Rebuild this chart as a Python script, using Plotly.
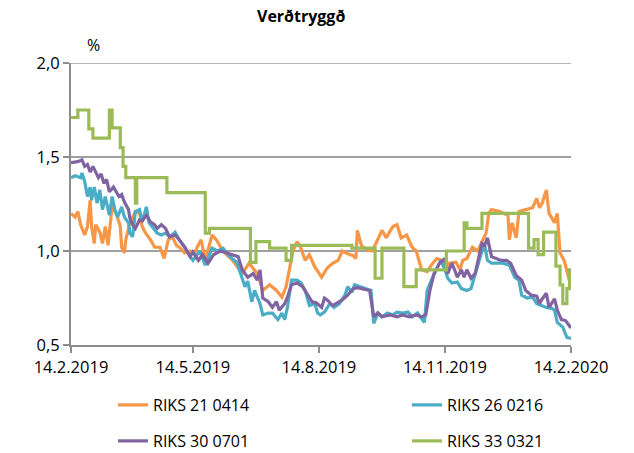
import pandas as pd
import plotly.graph_objects as go

START = "2019-02-14"

# Day offsets from 14.2.2019 and yields (%)
riks21_days = [0, 3, 5, 7, 10, 12, 14, 15, 17, 18, 21, 23, 25, 27, 28, 30, 33, 36, 37, 39, 40, 43, 47, 50, 52, 54, 58, 61, 65, 68, 71, 74, 77, 79, 83, 87, 90, 95, 98, 103, 106, 111, 118, 125, 130, 136, 140, 145, 150, 154, 157, 160, 162, 165, 167, 171, 174, 178, 183, 187, 191, 195, 198, 202, 206, 208, 209, 212, 216, 220, 224, 227, 230, 235, 238, 241, 245, 249, 252, 256, 260, 263, 267, 271, 275, 276, 281, 284, 286, 289, 293, 297, 300, 303, 305, 307, 313, 319, 320, 322, 325, 327, 332, 337, 340, 342, 344, 347, 349, 353, 355, 357, 360, 362, 365]
riks21_vals = [1.20, 1.18, 1.21, 1.14, 1.085, 1.13, 1.27, 1.13, 1.04, 1.14, 1.10, 1.04, 1.13, 1.03, 1.10, 1.235, 1.20, 1.13, 1.02, 0.99, 1.06, 1.15, 1.21, 1.20, 1.13, 1.10, 1.06, 1.02, 1.02, 0.96, 1.06, 1.075, 1.03, 1.02, 0.99, 1.0, 0.99, 1.06, 0.95, 1.085, 1.06, 1.0, 0.95, 0.88, 0.935, 0.88, 0.79, 0.82, 0.79, 0.755, 0.81, 0.935, 1.0, 1.05, 1.03, 0.95, 0.98, 0.915, 0.86, 0.91, 0.935, 0.95, 1.0, 0.985, 0.975, 0.96, 1.11, 1.03, 1.005, 1.0, 1.06, 1.11, 1.07, 1.13, 1.14, 1.07, 1.085, 1.02, 1.0, 0.90, 0.89, 0.925, 0.96, 0.95, 0.915, 0.935, 0.94, 0.90, 0.95, 0.96, 1.02, 1.0, 1.05, 1.095, 1.20, 1.22, 1.21, 1.19, 1.06, 1.15, 1.07, 1.21, 1.22, 1.23, 1.28, 1.23, 1.255, 1.325, 1.20, 1.15, 1.20, 0.99, 0.95, 0.90, 0.81]

riks26_days = [0, 3, 7, 8, 10, 12, 14, 15, 17, 19, 21, 23, 25, 28, 30, 32, 34, 37, 39, 42, 43, 45, 47, 50, 52, 55, 57, 60, 63, 66, 69, 72, 76, 79, 83, 87, 89, 94, 98, 103, 107, 111, 116, 121, 125, 127, 129, 132, 134, 138, 140, 144, 147, 151, 154, 156, 158, 161, 165, 168, 171, 174, 178, 180, 182, 185, 189, 192, 196, 200, 202, 205, 207, 211, 219, 221, 224, 227, 231, 235, 238, 242, 246, 249, 253, 258, 260, 264, 268, 270, 273, 275, 278, 282, 285, 289, 292, 295, 297, 300, 302, 304, 307, 315, 320, 324, 327, 329, 333, 337, 340, 344, 347, 351, 353, 355, 359, 362, 365]
riks26_vals = [1.39, 1.40, 1.39, 1.415, 1.37, 1.29, 1.34, 1.27, 1.34, 1.255, 1.325, 1.22, 1.29, 1.19, 1.29, 1.22, 1.18, 1.235, 1.18, 1.15, 1.095, 1.075, 1.21, 1.22, 1.155, 1.235, 1.15, 1.12, 1.095, 1.085, 1.095, 1.075, 1.10, 1.06, 1.02, 0.97, 0.95, 1.0, 0.925, 1.015, 1.0, 1.015, 0.97, 0.94, 0.86, 0.81, 0.84, 0.73, 0.79, 0.72, 0.66, 0.67, 0.67, 0.635, 0.67, 0.635, 0.70, 0.845, 0.845, 0.83, 0.79, 0.71, 0.72, 0.67, 0.66, 0.675, 0.72, 0.70, 0.72, 0.765, 0.81, 0.78, 0.82, 0.81, 0.79, 0.615, 0.67, 0.65, 0.67, 0.66, 0.675, 0.67, 0.675, 0.65, 0.67, 0.62, 0.79, 0.86, 0.915, 0.95, 0.90, 0.855, 0.83, 0.835, 0.80, 0.79, 0.80, 0.88, 0.935, 1.0, 1.03, 0.95, 0.935, 0.935, 0.925, 0.86, 0.845, 0.765, 0.75, 0.755, 0.72, 0.71, 0.70, 0.695, 0.685, 0.62, 0.595, 0.54, 0.535]

riks30_days = [0, 5, 8, 10, 12, 14, 16, 18, 20, 22, 24, 26, 28, 31, 33, 35, 37, 39, 42, 43, 45, 47, 50, 52, 55, 58, 61, 63, 66, 69, 72, 76, 79, 83, 87, 89, 93, 96, 100, 104, 109, 114, 118, 122, 125, 129, 133, 136, 138, 140, 144, 147, 150, 152, 156, 158, 161, 165, 169, 173, 176, 179, 183, 185, 187, 191, 195, 198, 202, 206, 209, 213, 218, 221, 224, 227, 233, 238, 242, 247, 252, 256, 259, 262, 265, 269, 271, 273, 275, 278, 280, 282, 285, 287, 289, 292, 295, 297, 300, 302, 304, 307, 309, 314, 318, 321, 325, 329, 332, 336, 340, 342, 344, 347, 349, 353, 355, 358, 361, 364, 365]
riks30_vals = [1.47, 1.475, 1.485, 1.45, 1.46, 1.42, 1.45, 1.42, 1.39, 1.41, 1.36, 1.38, 1.315, 1.34, 1.315, 1.29, 1.30, 1.26, 1.22, 1.175, 1.14, 1.12, 1.165, 1.16, 1.19, 1.155, 1.14, 1.12, 1.14, 1.12, 1.075, 1.085, 1.06, 1.02, 0.97, 0.995, 0.95, 0.98, 0.935, 0.98, 1.0, 0.99, 0.98, 0.97, 0.90, 0.86, 0.88, 0.845, 0.90, 0.75, 0.73, 0.70, 0.73, 0.685, 0.72, 0.755, 0.82, 0.83, 0.81, 0.765, 0.73, 0.725, 0.70, 0.75, 0.74, 0.71, 0.725, 0.74, 0.765, 0.80, 0.805, 0.80, 0.79, 0.65, 0.67, 0.65, 0.66, 0.65, 0.66, 0.65, 0.66, 0.65, 0.66, 0.79, 0.88, 0.935, 0.95, 0.96, 0.88, 0.935, 0.90, 0.86, 0.90, 0.86, 0.90, 0.855, 0.88, 0.95, 1.04, 1.03, 1.07, 0.97, 0.965, 0.95, 0.95, 0.935, 0.87, 0.845, 0.79, 0.765, 0.76, 0.72, 0.745, 0.775, 0.70, 0.745, 0.685, 0.635, 0.63, 0.595, 0.59]

riks33_days = [0, 5, 13, 16, 28, 30, 36, 38, 40, 47, 48, 70, 98, 101, 131, 135, 145, 157, 161, 205, 222, 227, 243, 252, 274, 287, 289, 300, 334, 338, 341, 345, 354, 357, 359, 362, 364, 365]
riks33_vals = [1.71, 1.75, 1.65, 1.60, 1.75, 1.655, 1.55, 1.45, 1.39, 1.255, 1.39, 1.31, 1.095, 1.12, 0.94, 1.05, 1.015, 0.95, 1.03, 1.015, 0.855, 1.015, 0.81, 0.90, 1.0, 1.15, 1.12, 1.20, 1.015, 1.06, 0.98, 1.10, 0.92, 0.82, 0.72, 0.80, 0.90, 0.90]

tick_dates = ["2019-02-14", "2019-05-14", "2019-08-14", "2019-11-14", "2020-02-14"]
tick_labels = ["14.2.2019", "14.5.2019", "14.8.2019", "14.11.2019", "14.2.2020"]
y_range = [0.5, 2.0]


def to_dates(days):
    return pd.Timestamp(START) + pd.to_timedelta(days, unit="D")


FONT = "Open Sans"
W, H = 634, 453
ML, MR, MT, MB = 71, 63, 63, 108
PW, PH = W - ML - MR, H - MT - MB
GRID = "#a0a0a0"

series = [
    ("RIKS 21 0414", riks21_days, riks21_vals, "#F79646", "linear"),
    ("RIKS 26 0216", riks26_days, riks26_vals, "#4BACC6", "linear"),
    ("RIKS 30 0701", riks30_days, riks30_vals, "#8064A2", "linear"),
    ("RIKS 33 0321", riks33_days, riks33_vals, "#9BBB59", "hv"),
]
legend_ids = ["legend", "legend2", "legend3", "legend4"]
# legend slots in pixels -> paper fractions: two columns, two rows
slot_px = [(113, 405), (407, 405), (113, 441), (407, 441)]

fig = go.Figure()
for (name, d, v, col, shape), leg in zip(series, legend_ids):
    fig.add_trace(go.Scatter(
        x=to_dates(d), y=v, name=name, mode="lines", showlegend=True,
        line=dict(color=col, width=3.2, shape=shape), legend=leg,
    ))

legends = {}
for leg, (px, py) in zip(legend_ids, slot_px):
    legends[leg] = dict(
        orientation="h", xref="paper", yref="paper", visible=True,
        x=(px - ML) / PW, y=(H - MB - py) / PH, xanchor="left", yanchor="middle",
        font=dict(family=FONT, size=16, color="#000"),
        bgcolor="rgba(0,0,0,0)", borderwidth=0,
    )

fig.update_layout(
    width=W, height=H, showlegend=True,
    margin=dict(l=ML, r=MR, t=MT, b=MB, autoexpand=False),
    paper_bgcolor="white", plot_bgcolor="white",
    separators=",.",
    font=dict(family=FONT, size=15, color="#000"),
    title=dict(text="<b>Verðtryggð</b>", x=0.475, xref="container", xanchor="center",
               y=1 - 16 / H, yref="container", yanchor="middle", automargin=False,
               font=dict(family=FONT, size=16, color="#000")),
    annotations=[dict(text="%", xref="paper", yref="paper", x=(93 - ML) / PW,
                      y=(H - MB - 45) / PH,
                      xanchor="center", yanchor="middle", showarrow=False,
                      font=dict(family=FONT, size=16, color="#000"))],
    # top gridline at the upper end of the value axis (plotly skips edge gridlines)
    shapes=[dict(type="line", xref="paper", yref="y", x0=0, x1=1,
                 y0=y_range[1], y1=y_range[1], layer="below",
                 line=dict(color=GRID, width=1.5))],
    **legends,
)

fig.update_xaxes(
    type="date", range=[tick_dates[0], tick_dates[-1]], automargin=False,
    tickvals=tick_dates, ticktext=tick_labels,
    showgrid=False, showline=True, linecolor="#8c8c8c", linewidth=2,
    ticks="outside", ticklen=6, tickcolor="#8c8c8c", tickwidth=2,
    tickfont=dict(family=FONT, size=16.5, color="#000"), zeroline=False,
)
fig.update_yaxes(
    range=y_range, dtick=0.5, tick0=0.5, tickformat=".1f", automargin=False,
    showgrid=True, gridcolor=GRID, gridwidth=1.5,
    showline=True, linecolor="#8c8c8c", linewidth=2,
    ticks="outside", ticklen=6, tickcolor="#8c8c8c", tickwidth=2,
    tickfont=dict(family=FONT, size=16.5, color="#000"), zeroline=False,
)

fig.write_html("out.html", config={"displayModeBar": False},
               post_script="document.body.style.margin='0px';")
